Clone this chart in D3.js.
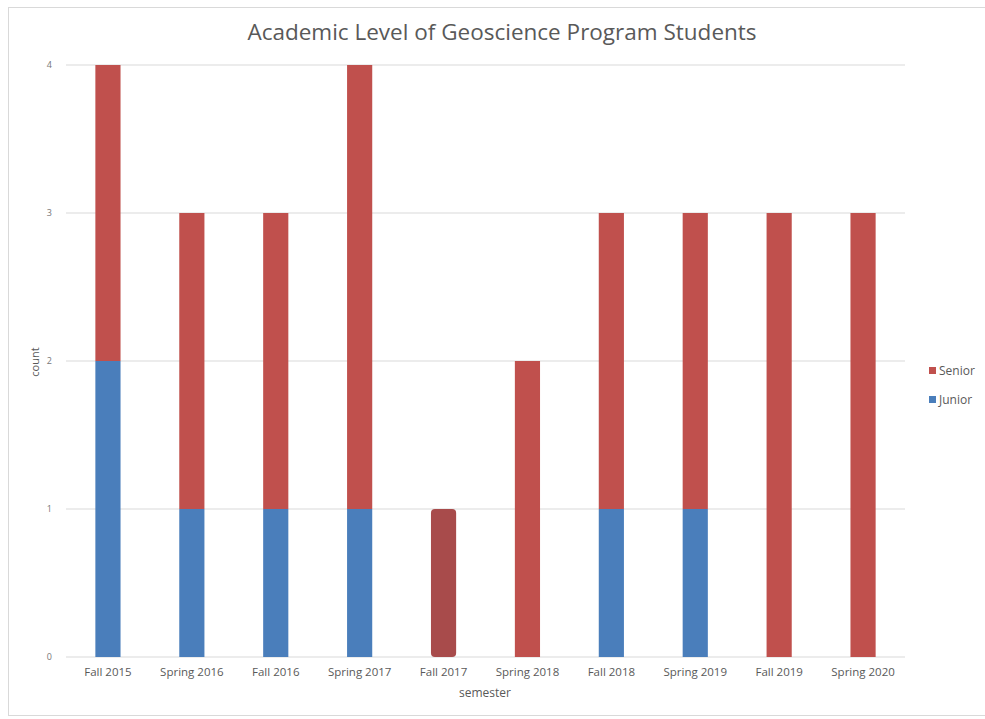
<!DOCTYPE html>
<html><head><meta charset="utf-8">
<script src="https://cdn.jsdelivr.net/npm/d3@7"></script>
<style>body{margin:0;background:#fff;}svg{display:block;}</style>
</head><body>
<script>
const semesters = ["Fall 2015","Spring 2016","Fall 2016","Spring 2017","Fall 2017","Spring 2018","Fall 2018","Spring 2019","Fall 2019","Spring 2020"];
const junior = [2,1,1,1,0,0,1,1,0,0];
const senior = [2,2,2,3,1,2,2,2,3,3];
const yTicks = [0,1,2,3,4];
const seriesNames = ["Junior","Senior"];
const colors = {Junior:"#4a7ebb", Senior:"#c0504d"};

const W=985,H=719;
const svg=d3.select("body").append("svg").attr("width",W).attr("height",H);
svg.append("rect").attr("x",8.5).attr("y",7.5).attr("width",980).attr("height",708).attr("fill","#fff").attr("stroke","#d9d9d9");

const x=d3.scaleBand().domain(semesters).range([66,905]).paddingInner(0.7).paddingOuter(0.35);
const y=d3.scaleLinear().domain([0,4]).range([657,65]);

svg.append("g").selectAll("line").data(yTicks).join("line")
 .attr("x1",66).attr("x2",905).attr("y1",d=>y(d)).attr("y2",d=>y(d))
 .attr("stroke","#d9d9d9").attr("stroke-width",1);

const yAxis=d3.axisLeft(y).tickValues(yTicks).tickFormat(d3.format("d")).tickSize(0).tickPadding(14);
svg.append("g").attr("transform","translate(66,0)").call(yAxis)
 .call(s=>s.select(".domain").remove())
 .selectAll("text").attr("font-family","Open Sans, sans-serif").attr("font-size",9).attr("fill","#777");

const xAxis=d3.axisBottom(x).tickSize(0).tickPadding(11);
svg.append("g").attr("transform","translate(0,657)").call(xAxis)
 .call(s=>s.select(".domain").remove())
 .selectAll("text").attr("font-family","Open Sans, sans-serif").attr("font-size",11.5).attr("fill","#595959");

const data=semesters.map((s,i)=>({semester:s,Junior:junior[i],Senior:senior[i]}));
const stack=d3.stack().keys(seriesNames)(data);
svg.append("g").selectAll("g").data(stack).join("g").attr("fill",d=>colors[d.key])
 .selectAll("rect").data(d=>d.filter(p=>p[1]-p[0]>0).map(p=>({p,key:d.key})))
 .join("rect")
 .attr("x",d=>x(d.p.data.semester)).attr("width",x.bandwidth())
 .attr("y",d=>y(d.p[1])).attr("height",d=>y(d.p[0])-y(d.p[1]))
 .attr("rx",d=>d.p.data.semester==="Fall 2017"?4:0)
 .attr("fill",d=>d.p.data.semester==="Fall 2017"?"#a84b4b":null);

svg.append("text").attr("x",502).attr("y",40).attr("text-anchor","middle")
 .attr("font-family","Open Sans, sans-serif").attr("font-size",22.5).attr("fill","#595959")
 .text("Academic Level of Geoscience Program Students");

svg.append("text").attr("transform","translate(39,362) rotate(-90)").attr("text-anchor","middle")
 .attr("font-family","Open Sans, sans-serif").attr("font-size",11).attr("fill","#595959").text("count");
svg.append("text").attr("x",485).attr("y",697).attr("text-anchor","middle")
 .attr("font-family","Open Sans, sans-serif").attr("font-size",12).attr("fill","#595959").text("semester");

const legendItems=["Senior","Junior"];
const lg=svg.append("g").selectAll("g").data(legendItems).join("g")
 .attr("transform",(d,i)=>`translate(929,${371+i*29})`);
lg.append("rect").attr("x",0).attr("y",-4).attr("width",7).attr("height",7).attr("fill",d=>colors[d]);
lg.append("text").attr("x",10).attr("y",4).attr("font-family","Open Sans, sans-serif").attr("font-size",12).attr("fill","#595959").text(d=>d);
</script>
</body></html>
